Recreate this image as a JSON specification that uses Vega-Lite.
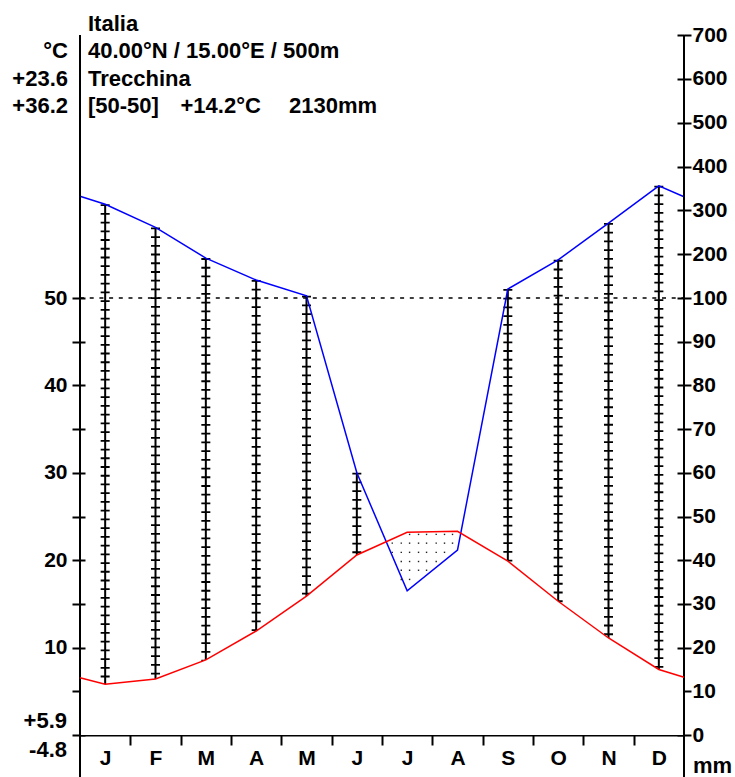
{
  "$schema": "https://vega.github.io/schema/vega-lite/v6.json",
  "width": 604,
  "height": 700,
  "autosize": {"type": "none"},
  "padding": {"left": 80, "top": 35, "right": 51, "bottom": 42},
  "background": "white",
  "config": {
    "view": {"stroke": null},
    "axis": {"grid": false, "domainColor": "black", "tickColor": "black", "labelColor": "black", "labelFont": "Liberation Sans", "labelFontWeight": "bold", "labelFontSize": 21, "tickWidth": 2, "domainWidth": 2, "zindex": 1, "labelOverlap": false, "labelFlush": false},
    "text": {"font": "Liberation Sans", "fontWeight": "bold", "fontSize": 22, "color": "black", "baseline": "alphabetic"}
  },
  "datasets": {
    "climate": [
      {"m": 0, "month": "", "temp": 6.55, "precip": 332},
      {"m": 0.5, "month": "J", "temp": 5.8, "precip": 314},
      {"m": 1.5, "month": "F", "temp": 6.4, "precip": 261},
      {"m": 2.5, "month": "M", "temp": 8.6, "precip": 191},
      {"m": 3.5, "month": "A", "temp": 11.9, "precip": 141},
      {"m": 4.5, "month": "M", "temp": 15.9, "precip": 105},
      {"m": 5.5, "month": "J", "temp": 20.6, "precip": 60},
      {"m": 6.5, "month": "J", "temp": 23.2, "precip": 33},
      {"m": 7.5, "month": "A", "temp": 23.3, "precip": 42.3},
      {"m": 8.5, "month": "S", "temp": 19.9, "precip": 120.5},
      {"m": 9.5, "month": "O", "temp": 15.3, "precip": 187},
      {"m": 10.5, "month": "N", "temp": 11.1, "precip": 271},
      {"m": 11.5, "month": "D", "temp": 7.5, "precip": 356},
      {"m": 12, "month": "", "temp": 6.6, "precip": 331}
    ],
    "dots": [
      {"m": 6.204, "mm": 43.9}, {"m": 6.204, "mm": 41.8},
      {"m": 6.383, "mm": 43.9}, {"m": 6.383, "mm": 41.8}, {"m": 6.383, "mm": 39.7}, {"m": 6.383, "mm": 37.7}, {"m": 6.383, "mm": 35.6},
      {"m": 6.548, "mm": 45.9}, {"m": 6.548, "mm": 43.9}, {"m": 6.548, "mm": 41.8}, {"m": 6.548, "mm": 39.7}, {"m": 6.548, "mm": 37.7}, {"m": 6.548, "mm": 35.6},
      {"m": 6.726, "mm": 45.9}, {"m": 6.726, "mm": 43.9}, {"m": 6.726, "mm": 41.8}, {"m": 6.726, "mm": 39.7}, {"m": 6.726, "mm": 37.7},
      {"m": 6.885, "mm": 45.9}, {"m": 6.885, "mm": 43.9}, {"m": 6.885, "mm": 41.8}, {"m": 6.885, "mm": 39.7}, {"m": 6.885, "mm": 37.7},
      {"m": 7.077, "mm": 45.9}, {"m": 7.077, "mm": 43.9}, {"m": 7.077, "mm": 41.8}, {"m": 7.077, "mm": 39.7},
      {"m": 7.242, "mm": 45.9}, {"m": 7.242, "mm": 43.9}, {"m": 7.242, "mm": 41.8},
      {"m": 7.401, "mm": 45.9}, {"m": 7.401, "mm": 43.9}
    ]
  },
  "resolve": {"scale": {"x": "independent", "y": "independent"}, "axis": {"x": "independent", "y": "independent"}},
  "layer": [
    {
      "data": {"name": "climate"},
      "transform": [{"filter": "datum.month != ''"}],
      "layer": [
        {
          "mark": {"type": "rule", "color": "black", "strokeWidth": 2},
          "encoding": {
            "x": {"field": "m", "type": "quantitative", "scale": {"domain": [0, 12], "nice": false, "zero": false},
              "axis": {"orient": "bottom", "values": [0.5, 1.5, 2.5, 3.5, 4.5, 5.5, 6.5, 7.5, 8.5, 9.5, 10.5, 11.5], "labelExpr": "['J','F','M','A','M','J','J','A','S','O','N','D'][floor(datum.value)]", "ticks": false, "tickSize": 0, "domain": false, "labelPadding": 12, "title": null}},
            "y": {"field": "precip", "type": "quantitative", "scale": {"domain": [0, 100, 700], "range": [700, 263, 0], "nice": false, "zero": false},
              "axis": {"orient": "right", "values": [0, 10, 20, 30, 40, 50, 60, 70, 80, 90, 100, 200, 300, 400, 500, 600, 700], "tickSize": 7, "labelPadding": 1, "domain": false, "title": null}},
            "y2": {"datum": 0}
          }
        },
        {
          "mark": {"type": "rule", "color": "black", "strokeWidth": 9, "strokeDash": [1.8, 6.93]},
          "encoding": {
            "x": {"field": "m", "type": "quantitative"},
            "y": {"field": "precip", "type": "quantitative"},
            "y2": {"datum": 0}
          }
        }
      ]
    },
    {
      "data": {"name": "climate"},
      "mark": {"type": "area", "color": "white", "opacity": 1, "interpolate": "linear"},
      "encoding": {
        "x": {"field": "m", "type": "quantitative", "scale": {"domain": [0, 12], "nice": false, "zero": false},
          "axis": {"orient": "bottom", "values": [1, 2, 3, 4, 5, 6, 7, 8, 9, 10, 11], "labels": false, "tickSize": 10, "domain": true, "title": null}},
        "y": {"field": "temp", "type": "quantitative", "scale": {"domain": [0, 50], "range": [700, 263], "nice": false, "zero": false},
          "axis": {"orient": "left", "values": [0, 5, 10, 15, 20, 25, 30, 35, 40, 45, 50], "tickSize": 8, "labelPadding": 5, "labelExpr": "datum.value % 10 == 0 && datum.value > 0 ? datum.label : ''", "domain": false, "title": null}},
        "y2": {"datum": 0}
      }
    },
    {
      "layer": [
        {
          "data": {"name": "climate"},
          "mark": {"type": "line", "color": "#0000ff", "strokeWidth": 1.5},
          "encoding": {
            "x": {"field": "m", "type": "quantitative", "scale": {"domain": [0, 12], "nice": false, "zero": false},
              "axis": {"orient": "bottom", "values": [1, 2, 3, 4, 5, 6, 7, 8, 9, 10, 11], "labels": false, "tickSize": -8, "domain": false, "title": null}},
            "y": {"field": "precip", "type": "quantitative", "scale": {"domain": [0, 100, 700], "range": [700, 263, 0], "nice": false, "zero": false},
              "axis": {"orient": "right", "values": [0, 10, 20, 30, 40, 50, 60, 70, 80, 90, 100, 200, 300, 400, 500, 600, 700], "labels": false, "tickSize": -7, "domain": false, "title": null}}
          }
        },
        {
          "data": {"name": "dots"},
          "mark": {"type": "point", "shape": "square", "filled": true, "size": 2, "color": "#222222", "opacity": 1},
          "encoding": {"x": {"field": "m", "type": "quantitative"}, "y": {"field": "mm", "type": "quantitative"}}
        },
        {
          "data": {"values": [{}]},
          "mark": {"type": "rule", "color": "black", "strokeWidth": 1.5, "strokeDash": [4, 5.7]},
          "encoding": {"x": {"datum": 0}, "x2": {"datum": 12}, "y": {"datum": 100}}
        },
        {
          "data": {"values": [{}]},
          "mark": {"type": "rule", "color": "black", "strokeWidth": 2},
          "encoding": {"x": {"datum": 0}, "y": {"datum": 700}, "y2": {"datum": -10}}
        },
        {
          "data": {"values": [{}]},
          "mark": {"type": "rule", "color": "black", "strokeWidth": 2},
          "encoding": {"x": {"datum": 12}, "y": {"datum": 700}, "y2": {"datum": -10}}
        },
        {"data": {"values": [{}]}, "mark": {"type": "text", "text": "Italia", "align": "left", "dx": 8}, "encoding": {"x": {"datum": 0}, "y": {"datum": 709}}},
        {"data": {"values": [{}]}, "mark": {"type": "text", "text": "40.00°N / 15.00°E / 500m", "align": "left", "dx": 8}, "encoding": {"x": {"datum": 0}, "y": {"datum": 647.5}}},
        {"data": {"values": [{}]}, "mark": {"type": "text", "text": "Trecchina", "align": "left", "dx": 8}, "encoding": {"x": {"datum": 0}, "y": {"datum": 583.6}}},
        {"data": {"values": [{}]}, "mark": {"type": "text", "text": "[50-50]", "align": "left", "dx": 8}, "encoding": {"x": {"datum": 0}, "y": {"datum": 522}}},
        {"data": {"values": [{}]}, "mark": {"type": "text", "text": "+14.2°C", "align": "left", "dx": 100.5}, "encoding": {"x": {"datum": 0}, "y": {"datum": 522}}},
        {"data": {"values": [{}]}, "mark": {"type": "text", "text": "2130mm", "align": "left", "dx": 209}, "encoding": {"x": {"datum": 0}, "y": {"datum": 522}}},
        {"data": {"values": [{}]}, "mark": {"type": "text", "text": "°C", "align": "right", "dx": -12}, "encoding": {"x": {"datum": 0}, "y": {"datum": 647.5}}},
        {"data": {"values": [{}]}, "mark": {"type": "text", "text": "+23.6", "align": "right", "dx": -12}, "encoding": {"x": {"datum": 0}, "y": {"datum": 583.6}}},
        {"data": {"values": [{}]}, "mark": {"type": "text", "text": "+36.2", "align": "right", "dx": -12}, "encoding": {"x": {"datum": 0}, "y": {"datum": 522}}},
        {"data": {"values": [{}]}, "mark": {"type": "text", "text": "+5.9", "align": "right", "dx": -13}, "encoding": {"x": {"datum": 0}, "y": {"datum": 1.6}}},
        {"data": {"values": [{}]}, "mark": {"type": "text", "text": "-4.8", "align": "right", "dx": -13}, "encoding": {"x": {"datum": 0}, "y": {"datum": -5}}},
        {"data": {"values": [{}]}, "mark": {"type": "text", "text": "mm", "align": "left", "dx": 9}, "encoding": {"x": {"datum": 12}, "y": {"datum": -8.6}}}
      ]
    },
    {
      "data": {"name": "climate"},
      "mark": {"type": "line", "color": "#ff0000", "strokeWidth": 1.5},
      "encoding": {
        "x": {"field": "m", "type": "quantitative", "scale": {"domain": [0, 12], "nice": false, "zero": false}, "axis": null},
        "y": {"field": "temp", "type": "quantitative", "scale": {"domain": [0, 50], "range": [700, 263], "nice": false, "zero": false},
          "axis": {"orient": "left", "values": [0, 5, 10, 15, 20, 25, 30, 35, 40, 45, 50], "labels": false, "tickSize": -5, "domain": false, "title": null}}
      }
    }
  ]
}
